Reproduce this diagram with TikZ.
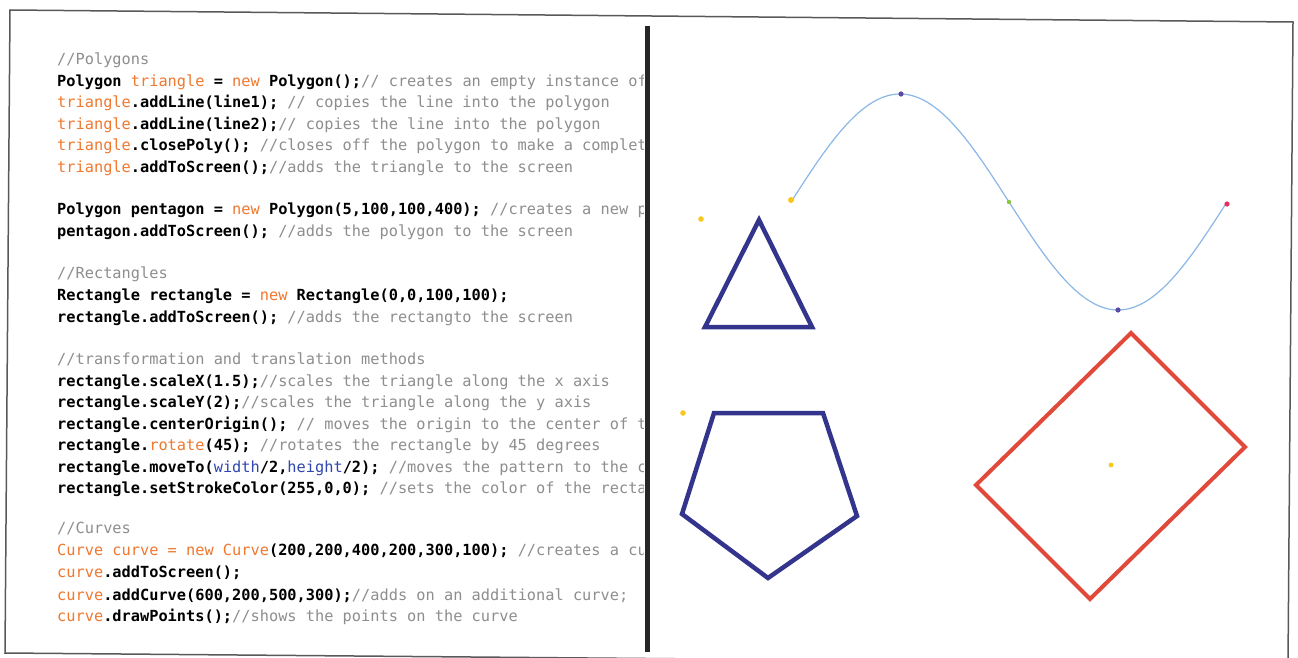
\documentclass[tikz,border=0pt]{standalone}
\usepackage{fontspec}
\setmonofont{DejaVu Sans Mono}
\definecolor{codeorange}{HTML}{F0782F}
\definecolor{codegray}{HTML}{8E8E8E}
\definecolor{codeblue}{HTML}{2F46B0}
\definecolor{navy}{HTML}{33358C}
\definecolor{redrect}{HTML}{E14A3A}
\definecolor{curveblue}{HTML}{8AB8E6}
\definecolor{dotyellow}{HTML}{F8C81E}
\definecolor{dotpurple}{HTML}{5A4AA6}
\definecolor{dotgreen}{HTML}{8CC63F}
\definecolor{dotred}{HTML}{E8305A}
\newcommand{\codefont}{\fontsize{15.3}{18}\selectfont\ttfamily}
\newcommand{\kw}[1]{{\bfseries\color{black}#1}}
\newcommand{\ok}[1]{{\mdseries\color{codeorange}#1}}
\newcommand{\cm}[1]{{\mdseries\color{codegray}#1}}
\newcommand{\bl}[1]{{\mdseries\color{codeblue}#1}}
\tikzset{
  codeline/.style={anchor=base west, inner sep=0pt, font=\codefont},
  framestyle/.style={draw=black!65, line width=1.5},
  divider/.style={draw=black!85, line width=5},
  shapeline/.style={line width=4.5, line join=miter},
}
\begin{document}
\begin{tikzpicture}[x=1pt, y=-1pt]
\useasboundingbox (0,0) rectangle (1298,658);
\fill[white] (0,0) rectangle (1298,658);
% outer frame
\draw[framestyle] (10,10) -- (1293,22) -- (1288,664) -- (5,653) -- cycle;
% code
\begin{scope}
\clip (10,0) rectangle (643,658);
\node[codeline] (t0)  at (57,65)    {\cm{//Polygons}};
\node[codeline] (t1)  at (57,86.4)  {\kw{Polygon} \ok{triangle} \kw{=} \ok{new} \kw{Polygon();}\cm{//} \cm{creates} \cm{an} \cm{empty} \cm{instance} \cm{of}};
\node[codeline] (t2)  at (57,107.8) {\ok{triangle}\kw{.addLine(line1);} \cm{//} \cm{copies the line into the polygon}};
\node[codeline] (t3)  at (57,129.3) {\ok{triangle}\kw{.addLine(line2);}\cm{//} \cm{copies the line into the polygon}};
\node[codeline] (t4)  at (57,150.7) {\ok{triangle}\kw{.closePoly();} \cm{//closes off the polygon to make a complet}};
\node[codeline] (t5)  at (57,172.1) {\ok{triangle}\kw{.addToScreen();}\cm{//adds the triangle to the screen}};
\node[codeline] (t7)  at (57,214.9) {\kw{Polygon pentagon =} \ok{new} \kw{Polygon(5,100,100,400);} \cm{//creates a new p}};
\node[codeline] (t8)  at (57,236.4) {\kw{pentagon.addToScreen();} \cm{//adds the polygon to the screen}};
\node[codeline] (t10) at (57,278.0) {\cm{//Rectangles}};
\node[codeline] (t11) at (57,300.6) {\kw{Rectangle rectangle =} \ok{new} \kw{Rectangle(0,0,100,100);}};
\node[codeline] (t12) at (57,322.0) {\kw{rectangle.addToScreen();} \cm{//adds the rectangto the screen}};
\node[codeline] (t14) at (57,364.0) {\cm{//transformation and translation methods}};
\node[codeline] (t15) at (57,386.3) {\kw{rectangle.scaleX(1.5);}\cm{//scales the triangle along the x axis}};
\node[codeline] (t16) at (57,407.7) {\kw{rectangle.scaleY(2);}\cm{//scales the triangle along the y axis}};
\node[codeline] (t17) at (57,429.1) {\kw{rectangle.centerOrigin();} \cm{//} \cm{moves the origin to the center of t}};
\node[codeline] (t18) at (57,450.6) {\kw{rectangle.}\ok{rotate}\kw{(45);} \cm{//rotates the rectangle by 45 degrees}};
\node[codeline] (t19) at (57,472.0) {\kw{rectangle.moveTo(}\bl{width}\kw{/2,}\bl{height}\kw{/2);} \cm{//moves the pattern to the c}};
\node[codeline] (t20) at (57,493.4) {\kw{rectangle.setStrokeColor(255,0,0);} \cm{//sets the color of the recta}};
\node[codeline] (t22) at (57,533.5) {\cm{//Curves}};
\node[codeline] (t23) at (57,555.5) {\ok{Curve curve = new Curve}\kw{(200,200,400,200,300,100);} \cm{//creates a cu}};
\node[codeline] (t24) at (57,577.5) {\ok{curve}\kw{.addToScreen();}};
\node[codeline] (t25) at (57,600.0) {\ok{curve}\kw{.addCurve(600,200,500,300);}\cm{//adds on an additional curve;}};
\node[codeline] (t26) at (57,621.5) {\ok{curve}\kw{.drawPoints();}\cm{//shows the points on the curve}};
\end{scope}
% divider
\draw[divider] (647,26) -- (647,652);
% curve
\draw[curveblue, line width=1.2] plot[smooth, domain=0:2, samples=90] ({791+218*\x},{202-108*sin(180*\x)});
\coordinate (c0) at (791,200);
\coordinate (c1) at (901,94);
\coordinate (c2) at (1009,202);
\coordinate (c3) at (1118,310);
\coordinate (c4) at (1227,204);
\fill[dotyellow] (c0) circle (3);
\fill[dotpurple] (c1) circle (2.6);
\fill[dotgreen] (c2) circle (2.2);
\fill[dotpurple] (c3) circle (2.6);
\fill[dotred] (c4) circle (2.6);
% other dots
\coordinate (y1) at (701,219);
\coordinate (y2) at (683,413);
\coordinate (y3) at (1111,465);
\fill[dotyellow] (y1) circle (2.8);
\fill[dotyellow] (y2) circle (2.8);
\fill[dotyellow] (y3) circle (2.4);
% triangle
\draw[navy, shapeline] (759,220) -- (812,327) -- (705,327) -- cycle;
% pentagon
\draw[navy, shapeline] (714,413) -- (823,413) -- (857,516) -- (768,578) -- (682,514) -- cycle;
% rotated rectangle
\draw[redrect, shapeline, line width=4] (1131,333) -- (1245,447) -- (1090,599) -- (976,485) -- cycle;
\end{tikzpicture}
\end{document}
